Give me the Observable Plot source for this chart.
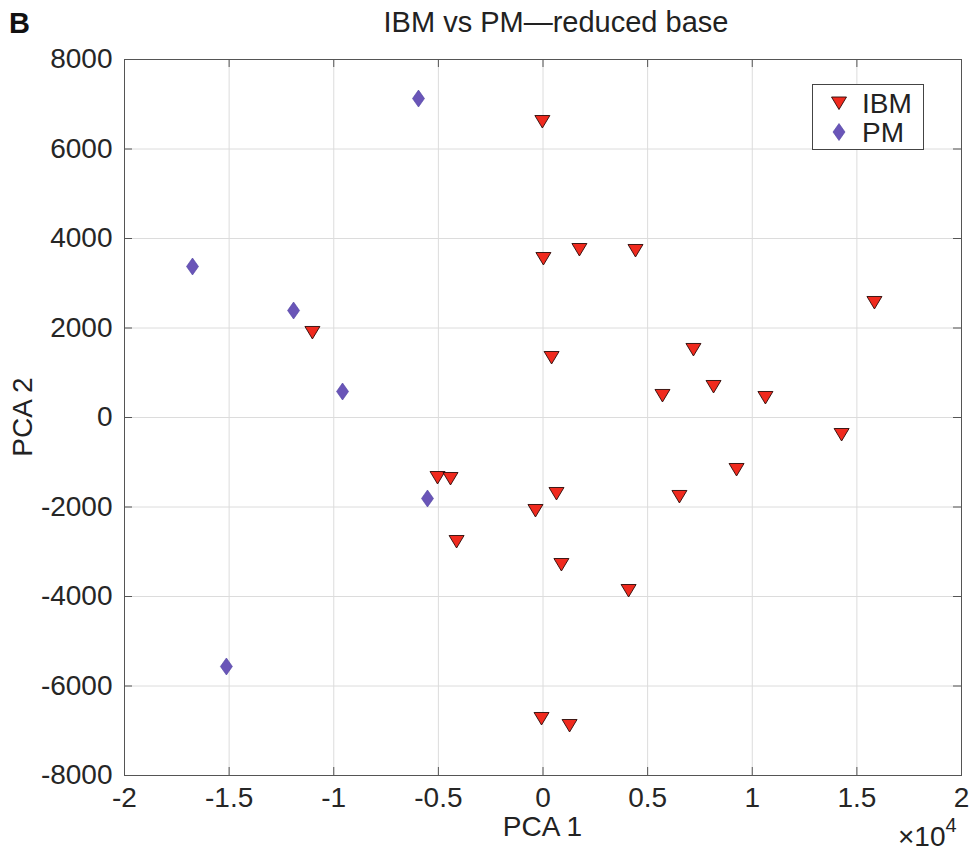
<!DOCTYPE html>
<html>
<head>
<meta charset="utf-8">
<script src="https://cdn.jsdelivr.net/npm/d3@7"></script>
<script src="https://cdn.jsdelivr.net/npm/@observablehq/plot@0.6"></script>
<style>
  html, body { margin: 0; padding: 0; background: #fff; }
  svg { display: block; }
</style>
</head>
<body>
<div id="chart"></div>
<script>
// ---- data ----
const xTicks = [-20000, -15000, -10000, -5000, 0, 5000, 10000, 15000, 20000];
const xTickLabels = ["-2", "-1.5", "-1", "-0.5", "0", "0.5", "1", "1.5", "2"];
const yTicks = [-8000, -6000, -4000, -2000, 0, 2000, 4000, 6000, 8000];
const yTickLabels = ["-8000", "-6000", "-4000", "-2000", "0", "2000", "4000", "6000", "8000"];

const ibmX = [-30, -11020, 20, 1740, 4420, 15840, 410, 7190, 5710, 8150, 10630, 14270, 9250, 6520,
              -5040, -4420, 645, -360, -4130, 880, 4090, -70, 1270];
const ibmY = [6614, 1900, 3553, 3754, 3732, 2570, 1341, 1520, 492, 693, 447, -380, -1162, -1765,
              -1341, -1363, -1698, -2078, -2771, -3285, -3866, -6726, -6883];

const pmX = [-5950, -16750, -11920, -9580, -5520, -15130];
const pmY = [7128, 3374, 2391, 581, -1810, -5564];

const seriesNames = ["IBM", "PM"];
const titleText = "IBM vs PM\u2014reduced base";
const xLabel = "PCA 1";
const yLabel = "PCA 2";

// ---- tables built from arrays ----
const ibm = ibmX.map((x, i) => ({x, y: ibmY[i]}));
const pm = pmX.map((x, i) => ({x, y: pmY[i]}));

// ---- marker shapes ----
const triDown = {draw(ctx) { ctx.moveTo(-7.5, -6); ctx.lineTo(7.5, -6); ctx.lineTo(0, 6.5); ctx.closePath(); }};
const diamond = {draw(ctx) { ctx.moveTo(0, -8.5); ctx.lineTo(6, 0); ctx.lineTo(0, 8.5); ctx.lineTo(-6, 0); ctx.closePath(); }};

const W = 975, H = 851, mL = 124, mR = 14, mT = 59, mB = 76;
const pw = W - mL - mR, ph = H - mT - mB;
const font = "'Liberation Sans', Arial, Helvetica, sans-serif";
const ibmFill = "#f02a1e", ibmStroke = "#2a0a08";
const pmFill = "#6a55b8", pmStroke = "#4a3ea0";

const chart = Plot.plot({
  width: W, height: H,
  marginLeft: mL, marginRight: mR, marginTop: mT, marginBottom: mB,
  x: {domain: [-20000, 20000]},
  y: {domain: [-8000, 8000]},
  style: {fontFamily: font, background: "#fff", color: "#262626", overflow: "visible"},
  marks: [
    Plot.gridX(xTicks, {stroke: "#dcdcdc", strokeOpacity: 1}),
    Plot.gridY(yTicks, {stroke: "#dcdcdc", strokeOpacity: 1}),
    Plot.tickX(xTicks, {x: d => d, insetTop: ph - 8, stroke: "#555"}),
    Plot.tickX(xTicks, {x: d => d, insetBottom: ph - 8, stroke: "#555"}),
    Plot.tickY(yTicks, {y: d => d, insetRight: pw - 8, stroke: "#555"}),
    Plot.tickY(yTicks, {y: d => d, insetLeft: pw - 8, stroke: "#555"}),
    Plot.frame({stroke: "#555"}),
    Plot.axisX(xTicks, {anchor: "bottom", tickSize: 0, tickPadding: 12, fontSize: 28, label: null,
      tickFormat: d => xTickLabels[xTicks.indexOf(d)]}),
    Plot.axisY(yTicks, {anchor: "left", tickSize: 0, tickPadding: 12, fontSize: 28, label: null,
      tickFormat: d => yTickLabels[yTicks.indexOf(d)]}),
    Plot.dot(pm, {x: "x", y: "y", symbol: diamond, r: 5, fill: pmFill, stroke: pmStroke, strokeWidth: 0.6}),
    Plot.dot(ibm, {x: "x", y: "y", symbol: triDown, r: 5, fill: ibmFill, stroke: ibmStroke, strokeWidth: 0.9})
  ]
});
document.getElementById("chart").appendChild(chart);

// ---- annotations ----
const svg = d3.select(chart);
svg.append("text").attr("x", 9).attr("y", 33).attr("text-anchor", "start").attr("font-family", font)
  .attr("font-weight", "bold").attr("font-size", 29).attr("fill", "#111").text("B");
svg.append("text").attr("x", 556).attr("y", 32).attr("text-anchor", "middle").attr("font-family", font)
  .attr("font-size", 29).attr("fill", "#222").text(titleText);
svg.append("text").attr("x", mL + pw / 2).attr("y", 836).attr("text-anchor", "middle").attr("font-family", font)
  .attr("font-size", 28).attr("fill", "#222").text(xLabel);
svg.append("text").attr("transform", `translate(32,${mT + ph / 2}) rotate(-90)`).attr("text-anchor", "middle")
  .attr("font-family", font).attr("font-size", 28).attr("fill", "#222").text(yLabel);
const ex = svg.append("text").attr("x", 898).attr("y", 846).attr("text-anchor", "start")
  .attr("font-family", font).attr("font-size", 28).attr("fill", "#222");
ex.append("tspan").text("\u00d710");
ex.append("tspan").attr("dy", -14).attr("font-size", 20).text("4");

// legend
const lg = svg.append("g");
lg.append("rect").attr("x", 812.5).attr("y", 84.5).attr("width", 111).attr("height", 65)
  .attr("fill", "#fff").attr("stroke", "#444").attr("stroke-width", 1);
const syms = [triDown, diamond], fills = [ibmFill, pmFill], strokes = [ibmStroke, pmStroke], ys = [103, 132];
seriesNames.forEach((name, i) => {
  lg.append("path").attr("d", d3.symbol(syms[i])()).attr("transform", `translate(839,${ys[i]})`)
    .attr("fill", fills[i]).attr("stroke", strokes[i]).attr("stroke-width", i === 0 ? 0.9 : 0.6);
  lg.append("text").attr("x", 862).attr("y", ys[i] + 10).attr("text-anchor", "start").attr("font-family", font)
    .attr("font-size", 28).attr("fill", "#222").text(name);
});
</script>
</body>
</html>
